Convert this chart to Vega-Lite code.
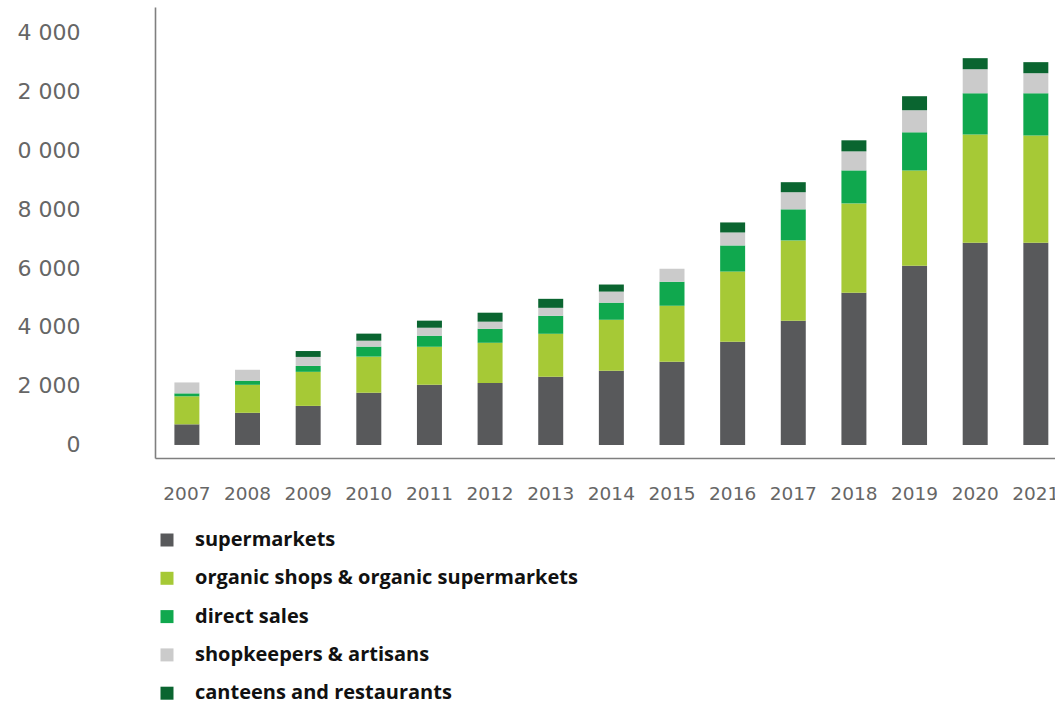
{
  "$schema": "https://vega.github.io/schema/vega-lite/v6.json",
  "width": 900,
  "height": 451,
  "padding": {"left": 0, "top": 7, "right": 0, "bottom": 0},
  "background": "white",
  "config": {"view": {"stroke": null}},
  "data": {"values": [
    {"year": "2007", "channel": "supermarkets", "value": 700},
    {"year": "2007", "channel": "organic shops & organic supermarkets", "value": 950},
    {"year": "2007", "channel": "direct sales", "value": 100},
    {"year": "2007", "channel": "shopkeepers & artisans", "value": 370},
    {"year": "2007", "channel": "canteens and restaurants", "value": 0},
    {"year": "2008", "channel": "supermarkets", "value": 1090},
    {"year": "2008", "channel": "organic shops & organic supermarkets", "value": 950},
    {"year": "2008", "channel": "direct sales", "value": 140},
    {"year": "2008", "channel": "shopkeepers & artisans", "value": 370},
    {"year": "2008", "channel": "canteens and restaurants", "value": 0},
    {"year": "2009", "channel": "supermarkets", "value": 1325},
    {"year": "2009", "channel": "organic shops & organic supermarkets", "value": 1155},
    {"year": "2009", "channel": "direct sales", "value": 200},
    {"year": "2009", "channel": "shopkeepers & artisans", "value": 305},
    {"year": "2009", "channel": "canteens and restaurants", "value": 200},
    {"year": "2010", "channel": "supermarkets", "value": 1770},
    {"year": "2010", "channel": "organic shops & organic supermarkets", "value": 1225},
    {"year": "2010", "channel": "direct sales", "value": 340},
    {"year": "2010", "channel": "shopkeepers & artisans", "value": 200},
    {"year": "2010", "channel": "canteens and restaurants", "value": 240},
    {"year": "2011", "channel": "supermarkets", "value": 2040},
    {"year": "2011", "channel": "organic shops & organic supermarkets", "value": 1290},
    {"year": "2011", "channel": "direct sales", "value": 375},
    {"year": "2011", "channel": "shopkeepers & artisans", "value": 270},
    {"year": "2011", "channel": "canteens and restaurants", "value": 240},
    {"year": "2012", "channel": "supermarkets", "value": 2105},
    {"year": "2012", "channel": "organic shops & organic supermarkets", "value": 1360},
    {"year": "2012", "channel": "direct sales", "value": 475},
    {"year": "2012", "channel": "shopkeepers & artisans", "value": 240},
    {"year": "2012", "channel": "canteens and restaurants", "value": 305},
    {"year": "2013", "channel": "supermarkets", "value": 2310},
    {"year": "2013", "channel": "organic shops & organic supermarkets", "value": 1460},
    {"year": "2013", "channel": "direct sales", "value": 610},
    {"year": "2013", "channel": "shopkeepers & artisans", "value": 270},
    {"year": "2013", "channel": "canteens and restaurants", "value": 305},
    {"year": "2014", "channel": "supermarkets", "value": 2515},
    {"year": "2014", "channel": "organic shops & organic supermarkets", "value": 1730},
    {"year": "2014", "channel": "direct sales", "value": 580},
    {"year": "2014", "channel": "shopkeepers & artisans", "value": 375},
    {"year": "2014", "channel": "canteens and restaurants", "value": 240},
    {"year": "2015", "channel": "supermarkets", "value": 2820},
    {"year": "2015", "channel": "organic shops & organic supermarkets", "value": 1900},
    {"year": "2015", "channel": "direct sales", "value": 815},
    {"year": "2015", "channel": "shopkeepers & artisans", "value": 440},
    {"year": "2015", "channel": "canteens and restaurants", "value": 0},
    {"year": "2016", "channel": "supermarkets", "value": 3500},
    {"year": "2016", "channel": "organic shops & organic supermarkets", "value": 2380},
    {"year": "2016", "channel": "direct sales", "value": 885},
    {"year": "2016", "channel": "shopkeepers & artisans", "value": 440},
    {"year": "2016", "channel": "canteens and restaurants", "value": 340},
    {"year": "2017", "channel": "supermarkets", "value": 4215},
    {"year": "2017", "channel": "organic shops & organic supermarkets", "value": 2720},
    {"year": "2017", "channel": "direct sales", "value": 1055},
    {"year": "2017", "channel": "shopkeepers & artisans", "value": 580},
    {"year": "2017", "channel": "canteens and restaurants", "value": 340},
    {"year": "2018", "channel": "supermarkets", "value": 5165},
    {"year": "2018", "channel": "organic shops & organic supermarkets", "value": 3025},
    {"year": "2018", "channel": "direct sales", "value": 1120},
    {"year": "2018", "channel": "shopkeepers & artisans", "value": 645},
    {"year": "2018", "channel": "canteens and restaurants", "value": 375},
    {"year": "2019", "channel": "supermarkets", "value": 6080},
    {"year": "2019", "channel": "organic shops & organic supermarkets", "value": 3230},
    {"year": "2019", "channel": "direct sales", "value": 1290},
    {"year": "2019", "channel": "shopkeepers & artisans", "value": 750},
    {"year": "2019", "channel": "canteens and restaurants", "value": 475},
    {"year": "2020", "channel": "supermarkets", "value": 6860},
    {"year": "2020", "channel": "organic shops & organic supermarkets", "value": 3670},
    {"year": "2020", "channel": "direct sales", "value": 1395},
    {"year": "2020", "channel": "shopkeepers & artisans", "value": 815},
    {"year": "2020", "channel": "canteens and restaurants", "value": 375},
    {"year": "2021", "channel": "supermarkets", "value": 6860},
    {"year": "2021", "channel": "organic shops & organic supermarkets", "value": 3635},
    {"year": "2021", "channel": "direct sales", "value": 1430},
    {"year": "2021", "channel": "shopkeepers & artisans", "value": 680},
    {"year": "2021", "channel": "canteens and restaurants", "value": 375}
  ]},
  "transform": [
    {"calculate": "indexof(['supermarkets', 'organic shops & organic supermarkets', 'direct sales', 'shopkeepers & artisans', 'canteens and restaurants'], datum.channel)", "as": "stackOrder"}
  ],
  "mark": {"type": "bar"},
  "encoding": {
    "x": {
      "field": "year", "type": "ordinal",
      "scale": {"paddingInner": 0.588, "paddingOuter": 0.215, "align": 0.744},
      "axis": {
        "title": null, "ticks": false, "labelAngle": 0,
        "domainColor": "#7f7f7f", "domainWidth": 1.6,
        "labelFont": "DejaVu Sans", "labelFontSize": 18.5, "labelColor": "#666666",
        "labelPadding": 26, "labelBaseline": "top"
      }
    },
    "y": {
      "field": "value", "type": "quantitative", "stack": "zero",
      "scale": {"domain": [-442, 14850], "nice": false, "zero": false},
      "axis": {
        "title": null, "ticks": false, "grid": false,
        "values": [0, 2000, 4000, 6000, 8000, 10000, 12000, 14000],
        "labelExpr": "datum.value == 0 ? '0' : (floor((datum.value % 10000) / 1000) + ' 000')",
        "domainColor": "#7f7f7f", "domainWidth": 1.6,
        "labelFont": "DejaVu Sans", "labelFontSize": 22, "labelColor": "#666666",
        "labelPadding": 75, "labelAlign": "right",
        "minExtent": 155, "maxExtent": 155
      }
    },
    "order": {"field": "stackOrder", "type": "quantitative", "sort": "ascending"},
    "color": {
      "field": "channel", "type": "nominal",
      "sort": ["supermarkets", "organic shops & organic supermarkets", "direct sales", "shopkeepers & artisans", "canteens and restaurants"],
      "scale": {
        "domain": ["supermarkets", "organic shops & organic supermarkets", "direct sales", "shopkeepers & artisans", "canteens and restaurants"],
        "range": ["#58595b", "#a6c936", "#10a84e", "#cbcbcb", "#0a6530"]
      },
      "legend": {
        "title": null, "orient": "none", "legendX": 2, "legendY": 523,
        "direction": "vertical", "padding": 0,
        "symbolType": "square", "symbolSize": 169, "symbolStrokeWidth": 0,
        "labelFont": "Open Sans", "labelFontWeight": "bold", "labelFontSize": 20,
        "labelColor": "#111111", "labelOffset": 18, "rowPadding": 18.3,
        "labelLimit": 600
      }
    }
  }
}
